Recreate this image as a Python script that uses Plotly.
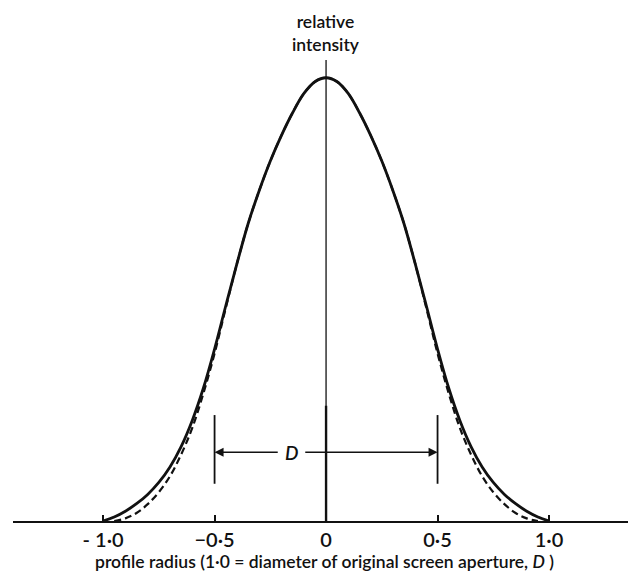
import plotly.graph_objects as go

# profile radius (units of D) and relative intensity
x_solid = [-1.00, -0.95, -0.90, -0.85, -0.80, -0.75, -0.70, -0.65, -0.60, -0.55,
           -0.50, -0.45, -0.40, -0.35, -0.30, -0.25, -0.20, -0.15, -0.10, -0.05,
           0.00, 0.05, 0.10, 0.15, 0.20, 0.25, 0.30, 0.35, 0.40, 0.45,
           0.50, 0.55, 0.60, 0.65, 0.70, 0.75, 0.80, 0.85, 0.90, 0.95, 1.00]
i_solid = [0.000, 0.009, 0.022, 0.039, 0.060, 0.087, 0.122, 0.168, 0.227, 0.300,
           0.388, 0.485, 0.580, 0.670, 0.745, 0.812, 0.870, 0.921, 0.964, 0.991,
           1.000, 0.991, 0.964, 0.921, 0.870, 0.812, 0.745, 0.670, 0.580, 0.485,
           0.388, 0.300, 0.227, 0.168, 0.122, 0.087, 0.060, 0.039, 0.022, 0.009, 0.000]

x_dashed = [-0.95, -0.90, -0.85, -0.80, -0.75, -0.70, -0.65, -0.60, -0.55,
            -0.50, -0.45, -0.40, -0.35, -0.30, -0.25, -0.20, -0.15, -0.10, -0.05,
            0.00, 0.05, 0.10, 0.15, 0.20, 0.25, 0.30, 0.35, 0.40, 0.45,
            0.50, 0.55, 0.60, 0.65, 0.70, 0.75, 0.80, 0.85, 0.90, 0.95]
i_dashed = [0.000, 0.006, 0.018, 0.038, 0.065, 0.101, 0.150, 0.210, 0.288,
            0.378, 0.480, 0.580, 0.670, 0.745, 0.812, 0.870, 0.921, 0.964, 0.991,
            1.000, 0.991, 0.964, 0.921, 0.870, 0.812, 0.745, 0.670, 0.580, 0.480,
            0.378, 0.288, 0.210, 0.150, 0.101, 0.065, 0.038, 0.018, 0.006, 0.000]

tick_vals = [-1.0, -0.5, 0.0, 0.5, 1.0]
tick_text = ["- 1·0", "−0·5", "0", "0·5", "1·0"]

# aperture marker D: bracket at +-0.5, arrow height
d_edges = [-0.5, 0.5]
d_bracket = [0.084, 0.239]
d_level = 0.155

FONT = "Lato"
INK = "#111111"

fig = go.Figure()

# vertical intensity axis
fig.add_trace(go.Scatter(x=[0, 0], y=[0, 1.04], mode="lines",
                         line=dict(color=INK, width=1.3), hoverinfo="skip"))
fig.add_trace(go.Scatter(x=[0, 0], y=[0, 0.26], mode="lines",
                         line=dict(color=INK, width=2.4), hoverinfo="skip"))

# bracket verticals
bx, by = [], []
for e in d_edges:
    bx += [e, e, None]
    by += [d_bracket[0], d_bracket[1], None]
fig.add_trace(go.Scatter(x=bx, y=by, mode="lines",
                         line=dict(color=INK, width=1.8), hoverinfo="skip"))

fig.add_trace(go.Scatter(x=x_dashed, y=i_dashed, mode="lines",
                         line=dict(color=INK, width=2.2, dash="7px,4px", shape="spline"),
                         hoverinfo="skip"))
fig.add_trace(go.Scatter(x=x_solid, y=i_solid, mode="lines",
                         line=dict(color=INK, width=2.8, shape="spline"),
                         hoverinfo="skip"))

# D arrows
for tail, head in [(-0.21, d_edges[0]), (-0.1, d_edges[1])]:
    fig.add_annotation(x=head, y=d_level, ax=tail, ay=d_level,
                       xref="x", yref="y", axref="x", ayref="y",
                       showarrow=True, arrowhead=2, arrowsize=1.2,
                       arrowwidth=1.5, arrowcolor=INK, text="")
fig.add_annotation(x=-0.155, y=d_level, text="<i>D</i>", showarrow=False,
                   font=dict(family=FONT, size=19, color=INK, weight=600))

fig.add_annotation(x=0, y=1.0, xref="x", yref="paper", yshift=3,
                   text="relative<br>intensity", showarrow=False,
                   yanchor="bottom", align="center",
                   font=dict(family=FONT, size=17.5, color=INK, weight=600))

# the page body adds an 8px offset, margins below compensate for it
fig.update_layout(
    width=636, height=572,
    margin=dict(l=5, r=8, t=52, b=59),
    paper_bgcolor="white", plot_bgcolor="white",
    showlegend=False,
    font=dict(family=FONT, size=16, color=INK),
)
fig.update_xaxes(
    range=[-1.404, 1.39],
    showgrid=False, zeroline=False,
    showline=True, linecolor=INK, linewidth=1.8,
    ticks="inside", ticklen=6, tickwidth=1.5, tickcolor=INK,
    tickvals=tick_vals, ticktext=tick_text,
    tickfont=dict(family=FONT, size=20, color=INK, weight=600),
    title=dict(text="profile radius (1·0 = diameter of original screen aperture, <i>D</i> )",
               font=dict(family=FONT, size=17.5, color=INK, weight=600), standoff=6),
)
fig.update_yaxes(range=[0, 1.04], visible=False)

fig.write_html("out.html")
